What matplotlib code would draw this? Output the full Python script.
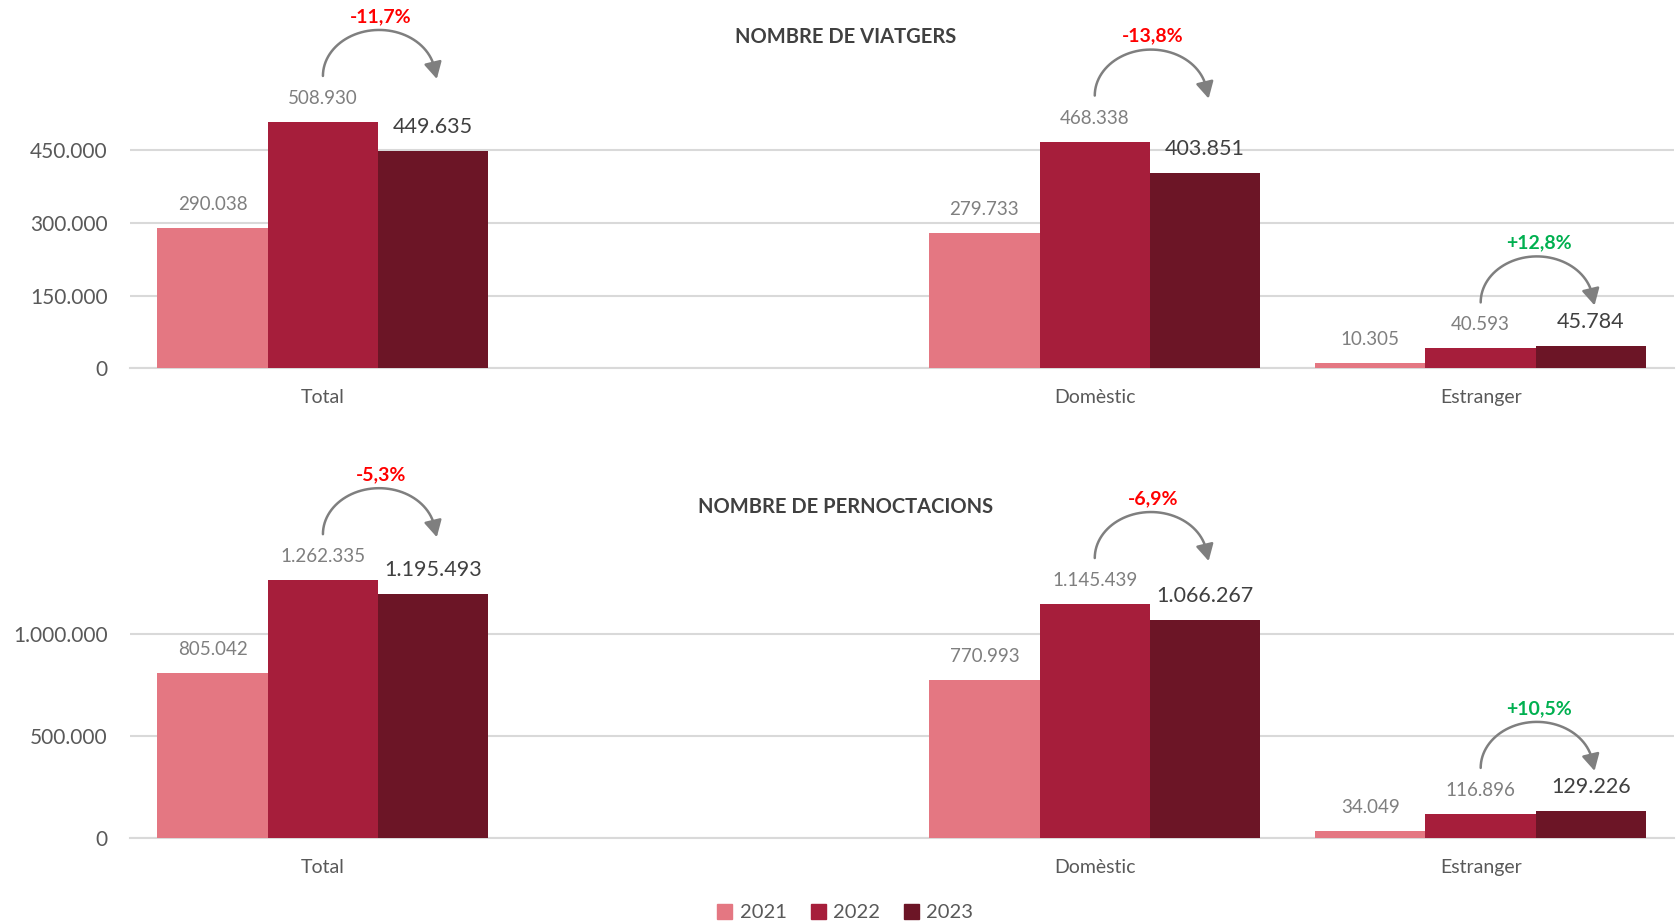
import numpy as np
import matplotlib
matplotlib.use('Agg')
import matplotlib.pyplot as plt
from matplotlib.patches import FancyArrowPatch
from matplotlib.path import Path
from matplotlib.transforms import IdentityTransform

plt.rcParams['font.family'] = ['Lato', 'DejaVu Sans']

# dades
categories = ['Total', '', 'Domèstic', 'Estranger']
years = ['2021', '2022', '2023']
viatgers = {
    '2021': [290038, np.nan, 279733, 10305],
    '2022': [508930, np.nan, 468338, 40593],
    '2023': [449635, np.nan, 403851, 45784],
}
pernoctacions = {
    '2021': [805042, np.nan, 770993, 34049],
    '2022': [1262335, np.nan, 1145439, 116896],
    '2023': [1195493, np.nan, 1066267, 129226],
}
colors = {'2021': '#E47782', '2022': '#A61E3B', '2023': '#6C1526'}


def fmt(v):
    return f"{int(v):,}".replace(',', '.')


def pct(a, b):
    p = (b / a - 1) * 100
    return f"{p:+.1f}%".replace('.', ',')


DPI = 100
fig = plt.figure(figsize=(16.77, 9.21), dpi=DPI)
ax1 = fig.add_axes([0.0775, 0.6004, 0.9205, 0.315])
ax2 = fig.add_axes([0.0775, 0.0904, 0.9205, 0.3323])

w = 0.286
x = np.arange(len(categories))


def arc_arrow(ax, x0, x1, ybar):
    # arc corbat (en píxels) des de sobre la barra 2022 fins a la 2023
    p0 = ax.transData.transform((x0, ybar))
    p1 = ax.transData.transform((x1, ybar))
    sx, sy = p0[0], p0[1] + 46
    a = (p1[0] + 2 - sx) / 2
    b = 46
    th = np.linspace(0, np.pi * 0.97, 50)
    xs = sx + a - a * np.cos(th)
    ys = sy + b * np.sin(th)
    verts = np.column_stack([xs, ys])
    verts = np.vstack([verts, [sx + 2 * a + 1.5, sy - 3]])
    arr = FancyArrowPatch(path=Path(verts), transform=IdentityTransform(),
                          arrowstyle='-|>,head_length=0.5,head_width=0.27',
                          mutation_scale=20, color='#7F7F7F', lw=1.8,
                          shrinkA=0, shrinkB=0, clip_on=False)
    fig.add_artist(arr)


def draw(ax, data, yticks, ylim, title, title_y):
    ax.set_xlim(-0.5, len(categories) - 0.5)
    ax.set_ylim(*ylim)
    for i, yr in enumerate(years):
        vals = np.array(data[yr], dtype=float)
        ax.bar(x + (i - 1) * w, vals, width=w, color=colors[yr], zorder=3)
        for xi, v in zip(x, vals):
            if np.isnan(v):
                continue
            if yr == '2023':
                ax.annotate(fmt(v), (xi + (i - 1) * w, v), xytext=(0, 13),
                            textcoords='offset points', ha='center', va='baseline',
                            fontsize=15.5, color='#404040', zorder=5)
            else:
                ax.annotate(fmt(v), (xi + (i - 1) * w, v), xytext=(0, 13),
                            textcoords='offset points', ha='center', va='baseline',
                            fontsize=13.5, color='#7F7F7F', zorder=5)
    # variació 2022 -> 2023
    for xi in x:
        a = data['2022'][xi]
        b = data['2023'][xi]
        if np.isnan(a):
            continue
        arc_arrow(ax, xi, xi + w, a)
        col = '#00B050' if b > a else '#FF0000'
        ax.annotate(pct(a, b), (xi + w / 2, a), xytext=(2, 72), textcoords='offset points',
                    ha='center', va='baseline', fontsize=14, fontweight='bold',
                    color=col, annotation_clip=False)

    ax.set_yticks(yticks)
    ax.set_yticklabels([fmt(t) for t in yticks])
    ax.set_xticks(x)
    ax.set_xticklabels(categories)
    ax.tick_params(axis='y', length=0, pad=16, labelsize=15, labelcolor='#595959')
    ax.tick_params(axis='x', length=0, pad=15, labelsize=14, labelcolor='#595959')
    ax.grid(axis='y', color='#D9D9D9', lw=1.5, zorder=0)
    for s in ['top', 'right', 'left']:
        ax.spines[s].set_visible(False)
    ax.spines['bottom'].set_color('#D9D9D9')
    ax.spines['bottom'].set_linewidth(1.5)
    fig.text(0.504, title_y, title, ha='center', va='center', fontsize=14.5,
             fontweight='bold', color='#404040')


draw(ax1, viatgers, [0, 150000, 300000, 450000], (0, 600000), 'NOMBRE DE VIATGERS', 0.960)
draw(ax2, pernoctacions, [0, 500000, 1000000], (0, 1500000), 'NOMBRE DE PERNOCTACIONS', 0.4495)

handles = [plt.Rectangle((0, 0), 1, 1, color=colors[y]) for y in years]
leg = fig.legend(handles, years, loc='center', bbox_to_anchor=(0.504, 0.009), ncol=3,
                 frameon=False, fontsize=14.5, handlelength=0.75, handleheight=0.75,
                 handletextpad=0.35, columnspacing=1.2)
for t in leg.get_texts():
    t.set_color('#595959')

fig.savefig('out.png', dpi=DPI)
